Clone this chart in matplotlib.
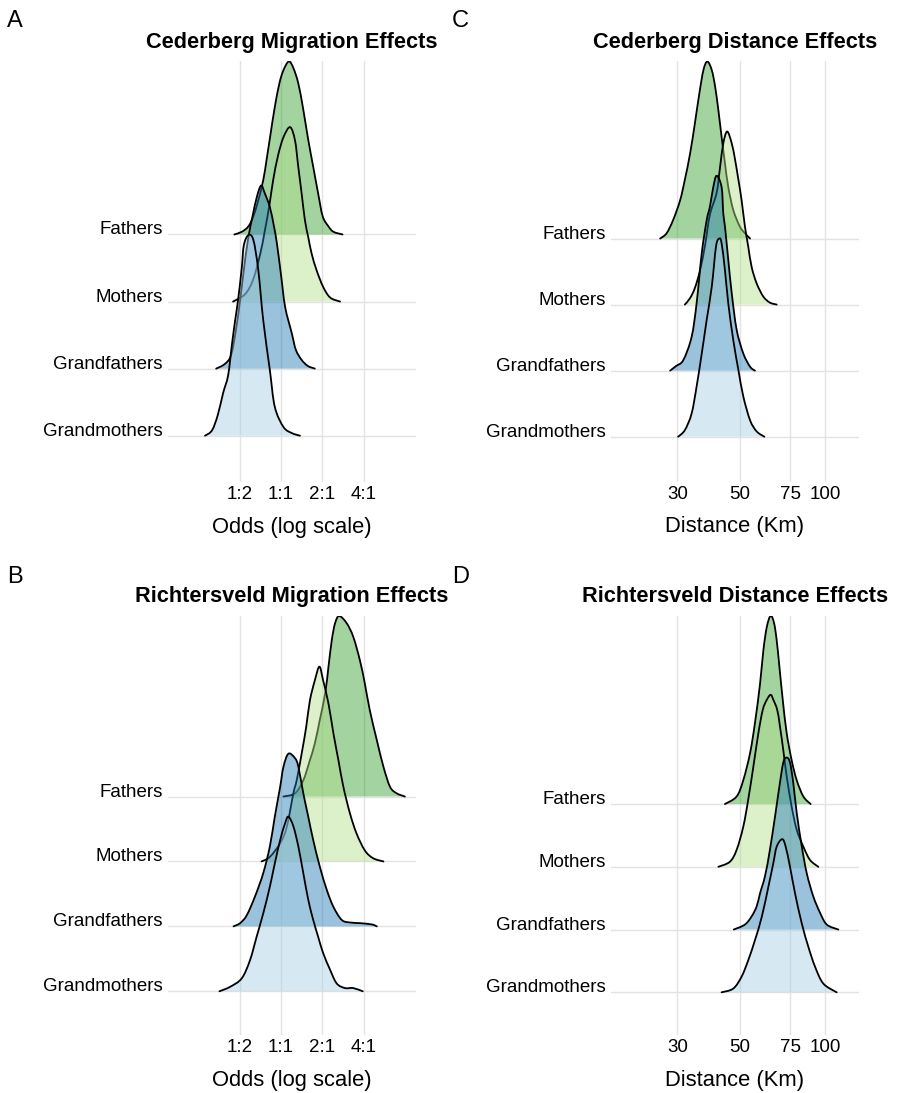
import matplotlib
matplotlib.use("Agg")
import matplotlib.pyplot as plt
import numpy as np
from matplotlib.ticker import NullLocator
from matplotlib.path import Path
from matplotlib.patches import PathPatch

plt.rcParams['font.family'] = ['Liberation Sans', 'DejaVu Sans']

# ---------------- data ----------------
categories = ["Fathers", "Mothers", "Grandfathers", "Grandmothers"]
fill_colors = ["#33a02c", "#b2df8a", "#1f78b4", "#a6cee3"]

odds_ticks = [-1, 0, 1, 2]                 # log2 odds
odds_tick_labels = ["1:2", "1:1", "2:1", "4:1"]
km_ticks = [30, 50, 75, 100]
km_tick_labels = ["30", "50", "75", "100"]

# Panel A: Cederberg migration (x = log2 odds, h = ridge height)
A_fathers_x = [-1.13, -0.95, -0.79, -0.67, -0.55, -0.43, -0.35, -0.25, -0.15, -0.04, 0.06,
               0.19, 0.30, 0.42, 0.54, 0.66, 0.78, 0.90, 1.01, 1.15, 1.27, 1.49]
A_fathers_h = [0, 0.04, 0.12, 0.27, 0.51, 0.81, 1.11, 1.51, 1.90, 2.25, 2.45,
               2.58, 2.48, 2.25, 1.86, 1.41, 1.01, 0.61, 0.27, 0.12, 0.04, 0]
A_mothers_x = [-1.16, -0.87, -0.68, -0.51, -0.39, -0.28, -0.19, -0.07, 0.06, 0.22,
               0.34, 0.42, 0.50, 0.58, 0.66, 0.74, 0.86, 1.02, 1.19, 1.43]
A_mothers_h = [0, 0.11, 0.32, 0.69, 1.06, 1.44, 1.81, 2.18, 2.45, 2.60,
               2.40, 2.00, 1.61, 1.21, 0.96, 0.72, 0.47, 0.22, 0.06, 0]
A_gfathers_x = [-1.57, -1.36, -1.21, -1.09, -0.99, -0.90, -0.80, -0.69, -0.58, -0.48, -0.39,
                -0.27, -0.17, -0.10, 0.00, 0.10, 0.26, 0.36, 0.50, 0.65, 0.82]
A_gfathers_h = [0, 0.07, 0.20, 0.58, 1.02, 1.47, 1.92, 2.27, 2.57, 2.73, 2.61,
                2.41, 2.12, 1.87, 1.40, 0.92, 0.53, 0.28, 0.13, 0.04, 0]
A_gmothers_x = [-1.84, -1.67, -1.53, -1.40, -1.28, -1.19, -1.11, -1.04, -0.95, -0.90,
                -0.79, -0.67, -0.55, -0.43, -0.27, -0.15, 0.06, 0.26, 0.46]
A_gmothers_h = [0, 0.08, 0.31, 0.64, 0.90, 1.35, 1.72, 2.02, 2.50, 2.84,
                2.99, 2.92, 2.47, 1.72, 0.98, 0.43, 0.13, 0.04, 0]

# Panel B: Richtersveld migration
B_fathers_x = [0.06, 0.34, 0.54, 0.70, 0.82, 0.94, 1.07, 1.15, 1.23, 1.31, 1.41,
               1.59, 1.75, 1.91, 2.03, 2.15, 2.32, 2.48, 2.64, 2.80, 3.00]
B_fathers_h = [0, 0.05, 0.25, 0.56, 0.82, 1.18, 1.59, 2.00, 2.41, 2.67, 2.78,
               2.67, 2.46, 2.10, 1.74, 1.33, 0.87, 0.46, 0.15, 0.05, 0]
B_mothers_x = [-0.47, -0.27, -0.02, 0.14, 0.30, 0.38, 0.50, 0.61, 0.70, 0.82, 0.93,
               1.02, 1.15, 1.27, 1.39, 1.51, 1.67, 1.83, 2.03, 2.23, 2.48]
B_mothers_h = [0, 0.07, 0.28, 0.53, 1.05, 1.25, 1.66, 2.07, 2.48, 2.79, 3.00,
               2.79, 2.43, 1.97, 1.56, 1.15, 0.74, 0.43, 0.17, 0.05, 0]
B_gfathers_x = [-1.15, -0.99, -0.83, -0.63, -0.43, -0.27, -0.15, -0.02, 0.06, 0.18, 0.34, 0.42,
                0.54, 0.66, 0.78, 0.94, 1.11, 1.27, 1.47, 1.67, 1.91, 2.20, 2.32]
B_gfathers_h = [0, 0.05, 0.17, 0.46, 0.82, 1.23, 1.69, 2.15, 2.46, 2.66, 2.59, 2.46,
                2.05, 1.69, 1.33, 0.92, 0.56, 0.30, 0.10, 0.06, 0.05, 0.03, 0]
B_gmothers_x = [-1.49, -1.23, -0.95, -0.75, -0.59, -0.43, -0.27, -0.15, -0.02, 0.10, 0.18, 0.30,
                0.42, 0.54, 0.66, 0.78, 0.90, 1.02, 1.19, 1.35, 1.55, 1.75, 1.98]
B_gmothers_h = [0, 0.07, 0.20, 0.48, 0.84, 1.20, 1.61, 1.97, 2.33, 2.59, 2.69, 2.54,
                2.23, 1.82, 1.41, 1.10, 0.84, 0.59, 0.33, 0.12, 0.05, 0.05, 0]

# Panel C: Cederberg distance (x = km)
C_fathers_x = [26.1, 27.5, 29.0, 30.7, 31.9, 33.3, 34.6, 35.9, 37.1, 38.3,
               39.7, 40.8, 41.9, 43.0, 44.2, 45.4, 47.3, 49.9, 52.0, 54.2]
C_fathers_h = [0, 0.08, 0.28, 0.58, 0.89, 1.29, 1.74, 2.20, 2.55, 2.68,
               2.55, 2.30, 1.94, 1.54, 1.14, 0.78, 0.43, 0.18, 0.08, 0]
C_mothers_x = [31.9, 33.3, 34.6, 36.1, 37.6, 39.1, 41.3, 42.5, 43.6, 45.0,
               46.7, 48.0, 49.3, 50.6, 52.0, 53.4, 54.9, 57.2, 60.4, 63.7, 67.3]
C_mothers_h = [0, 0.10, 0.25, 0.52, 0.90, 1.36, 1.69, 2.09, 2.44, 2.62,
               2.44, 2.19, 1.89, 1.58, 1.18, 0.88, 0.57, 0.32, 0.12, 0.03, 0]
C_gfathers_x = [28.3, 29.7, 31.5, 33.7, 35.1, 36.6, 38.1, 39.1, 40.2, 41.3,
                43.0, 43.6, 44.2, 45.4, 46.7, 48.6, 51.3, 54.2, 56.4]
C_gfathers_h = [0, 0.07, 0.16, 0.51, 1.02, 1.78, 2.28, 2.48, 2.78, 2.95,
                2.78, 2.38, 2.18, 1.68, 1.17, 0.62, 0.26, 0.06, 0]
C_gmothers_x = [30.2, 31.9, 33.7, 35.1, 36.6, 38.1, 39.7, 41.1, 42.2,
                43.0, 44.2, 45.4, 47.3, 49.3, 51.3, 54.2, 57.2, 60.9]
C_gmothers_h = [0, 0.10, 0.35, 0.76, 1.26, 1.77, 2.27, 2.88, 3.00,
                2.93, 2.52, 2.02, 1.46, 1.01, 0.61, 0.25, 0.08, 0]

# Panel D: Richtersveld distance
D_fathers_x = [44.2, 48.6, 51.3, 54.2, 56.4, 58.8, 60.4, 62.1, 64.1,
               65.9, 67.3, 68.8, 70.7, 73.0, 76.0, 79.2, 83.6, 88.7]
D_fathers_h = [0, 0.12, 0.38, 0.81, 1.29, 1.92, 2.45, 2.82, 3.00,
               2.88, 2.61, 2.19, 1.66, 1.13, 0.70, 0.38, 0.12, 0]
D_mothers_x = [41.9, 46.0, 48.6, 51.3, 53.4, 55.7, 58.0, 60.1, 62.1, 64.1,
               65.5, 67.6, 69.1, 71.0, 73.0, 76.0, 79.2, 83.6, 88.2, 94.4]
D_mothers_h = [0, 0.08, 0.27, 0.64, 1.07, 1.60, 2.13, 2.50, 2.66, 2.74,
               2.66, 2.50, 2.24, 1.86, 1.44, 0.96, 0.59, 0.32, 0.11, 0]
D_gfathers_x = [47.5, 52.0, 54.9, 57.2, 58.8, 61.2, 63.7, 66.4, 68.8, 71.0,
                73.0, 75.0, 77.0, 79.2, 82.5, 85.9, 90.6, 95.7, 101.1, 111.1]
D_gfathers_h = [0, 0.08, 0.21, 0.37, 0.58, 0.85, 1.27, 1.80, 2.28, 2.66,
                2.74, 2.66, 2.34, 1.86, 1.33, 0.90, 0.53, 0.27, 0.08, 0]
D_gmothers_x = [43.0, 47.3, 50.6, 53.4, 56.4, 59.6, 62.9, 65.5, 67.3,
                70.4, 72.4, 75.0, 78.1, 82.5, 87.0, 91.9, 98.3, 109.6]
D_gmothers_h = [0, 0.06, 0.25, 0.51, 0.83, 1.20, 1.68, 2.06, 2.32,
                2.44, 2.32, 2.00, 1.58, 1.10, 0.73, 0.41, 0.14, 0]

panels = [
    dict(letter="A", title="Cederberg Migration Effects", xlabel="Odds (log scale)", log=False,
         curves=[(A_fathers_x, A_fathers_h), (A_mothers_x, A_mothers_h),
                 (A_gfathers_x, A_gfathers_h), (A_gmothers_x, A_gmothers_h)],
         rect=(168, 61, 416, 482), xlim=(-2.736, 3.269), ylim=(-0.69, 5.586)),
    dict(letter="B", title="Richtersveld Migration Effects", xlabel="Odds (log scale)", log=False,
         curves=[(B_fathers_x, B_fathers_h), (B_mothers_x, B_mothers_h),
                 (B_gfathers_x, B_gfathers_h), (B_gmothers_x, B_gmothers_h)],
         rect=(168, 615.7, 416, 1035), xlim=(-2.736, 3.269), ylim=(-0.673, 5.785)),
    dict(letter="C", title="Cederberg Distance Effects", xlabel="Distance (Km)", log=True,
         curves=[(C_fathers_x, C_fathers_h), (C_mothers_x, C_mothers_h),
                 (C_gfathers_x, C_gfathers_h), (C_gmothers_x, C_gmothers_h)],
         rect=(611, 61, 858.7, 481.7), xlim=(17.5, 131.1), ylim=(-0.681, 5.687)),
    dict(letter="D", title="Richtersveld Distance Effects", xlabel="Distance (Km)", log=True,
         curves=[(D_fathers_x, D_fathers_h), (D_mothers_x, D_mothers_h),
                 (D_gfathers_x, D_gfathers_h), (D_gmothers_x, D_gmothers_h)],
         rect=(611, 615.7, 858.7, 1035), xlim=(17.5, 131.1), ylim=(-0.68, 6.0)),
]

letter_pos = {"A": (7, 27), "B": (7, 583), "C": (452, 27), "D": (452, 583)}


def smooth_path_vertices(xs, ys, log_x, base):
    """Cubic Bezier (Catmull-Rom) path through the read points (rendering only)."""
    px = np.log(np.asarray(xs, float)) if log_x else np.asarray(xs, float)
    py = np.asarray(ys, float)
    n = len(px)
    verts = [(px[0], py[0])]
    codes = [Path.MOVETO]
    for i in range(n - 1):
        p0 = max(i - 1, 0)
        p3 = min(i + 2, n - 1)
        c1x = px[i] + (px[i + 1] - px[p0]) / 6.0
        c1y = py[i] + (py[i + 1] - py[p0]) / 6.0
        c2x = px[i + 1] - (px[p3] - px[i]) / 6.0
        c2y = py[i + 1] - (py[p3] - py[i]) / 6.0
        c1y = max(c1y, base)
        c2y = max(c2y, base)
        verts += [(c1x, c1y), (c2x, c2y), (px[i + 1], py[i + 1])]
        codes += [Path.CURVE4] * 3
    verts = np.array(verts)
    if log_x:
        verts[:, 0] = np.exp(verts[:, 0])
    return verts, codes


W, H = 899, 1093
fig = plt.figure(figsize=(W / 100, H / 100), dpi=100)

ridge_pos = [3, 2, 1, 0]
grid_col = "#e2e2e2"

for p in panels:
    x0, y0, x1, y1 = p["rect"]
    ax = fig.add_axes([x0 / W, 1 - y1 / H, (x1 - x0) / W, (y1 - y0) / H])
    for s in ax.spines.values():
        s.set_visible(False)
    if p["log"]:
        ax.set_xscale("log")
        ax.set_xticks(km_ticks, km_tick_labels)
        ax.xaxis.set_minor_locator(NullLocator())
    else:
        ax.set_xticks(odds_ticks, odds_tick_labels)
    ax.set_xlim(*p["xlim"])
    ax.set_ylim(*p["ylim"])
    ax.set_yticks(ridge_pos, categories)
    for lbl in ax.get_yticklabels():
        lbl.set_verticalalignment("baseline")
    ax.tick_params(axis="both", length=0, labelsize=13.5, colors="black")
    ax.tick_params(axis="y", pad=3.8)
    ax.tick_params(axis="x", pad=3.0)
    ax.grid(True, color=grid_col, linewidth=1.0)
    ax.set_axisbelow(True)
    for i, (xs, hs) in enumerate(p["curves"]):
        base = ridge_pos[i]
        top = [base + h for h in hs]
        verts, codes = smooth_path_vertices(xs, top, p["log"], base)
        # closed fill down to the ridge baseline
        fverts = np.vstack([verts, [[xs[-1], base], [xs[0], base], [xs[0], base]]])
        fcodes = list(codes) + [Path.LINETO, Path.LINETO, Path.CLOSEPOLY]
        ax.add_patch(PathPatch(Path(fverts, fcodes), facecolor=fill_colors[i],
                               alpha=0.45, edgecolor="none", zorder=2 + 2 * i))
        ax.add_patch(PathPatch(Path(verts, codes), facecolor="none",
                               edgecolor="black", linewidth=1.3, zorder=3 + 2 * i,
                               joinstyle="round", capstyle="round"))
    ax.set_xlabel(p["xlabel"], fontsize=15.8, labelpad=9.8)
    ax.set_title(p["title"], fontsize=15.7, fontweight="bold", pad=9.6)
    lx, ly = letter_pos[p["letter"]]
    fig.text(lx / W, 1 - ly / H, p["letter"], fontsize=17, ha="left", va="baseline")

fig.savefig("out.png", dpi=100)
